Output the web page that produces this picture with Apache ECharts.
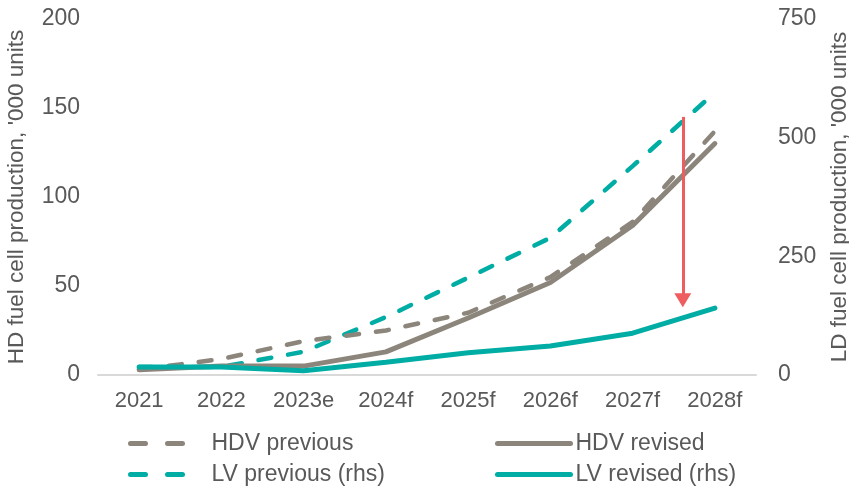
<!DOCTYPE html>
<html>
<head>
<meta charset="utf-8">
<script src="https://cdn.jsdelivr.net/npm/echarts@6/dist/echarts.min.js"></script>
<style>
html,body{margin:0;padding:0;background:#fff;}
#chart{width:849px;height:487px;}
</style>
</head>
<body>
<div id="chart"></div>
<script>
// ---- data ----
var categories = ['2021', '2022', '2023e', '2024f', '2025f', '2026f', '2027f', '2028f'];
var hdvPrevious = [3, 9, 19, 25, 35, 55, 86, 137];
var hdvRevised = [3, 5, 5, 13, 32, 52, 84, 130];
var lvPrevious = [17, 17, 49, 122, 205, 289, 440, 595];
var lvRevised = [17, 17, 9, 27, 47, 61, 88, 141];
var leftTicks = {min: 0, max: 200, interval: 50};
var rightTicks = {min: 0, max: 750, interval: 250};
// red arrow annotation: category position (index units) and values on left axis
var arrowX = 6.61;
var arrowFrom = 145;
var arrowTo = 42;

var GRAY = '#8C857B';
var TEAL = '#00ADA5';
var RED = '#EE5D5F';
var TXT = '#595959';
var FONT = 'Liberation Sans, Arial, sans-serif';

var chart = echarts.init(document.getElementById('chart'), null, {renderer: 'canvas'});

var dashed = [13, 17];
var legendDash = [15, 22];
var noSymbol = {opacity: 0};

var option = {
  animation: false,
  backgroundColor: '#fff',
  textStyle: {fontFamily: FONT, color: TXT},
  grid: {left: 98, right: 93, top: 19, bottom: 112, containLabel: false, outerBoundsMode: 'none'},
  xAxis: [{
    type: 'category',
    data: categories,
    boundaryGap: true,
    axisLine: {show: true, lineStyle: {color: '#D9D9D9', width: 2}},
    axisTick: {show: false},
    axisLabel: {color: TXT, fontSize: 22, fontFamily: FONT, margin: 15, interval: 0},
    splitLine: {show: false}
  }, {
    type: 'value',
    min: -0.5,
    max: 7.5,
    show: false,
    splitLine: {show: false}
  }],
  yAxis: [{
    type: 'value',
    min: leftTicks.min, max: leftTicks.max, interval: leftTicks.interval,
    name: "HD fuel cell production, '000 units",
    nameLocation: 'middle',
    nameGap: 70,
    nameTextStyle: {color: TXT, fontSize: 22.5, fontFamily: FONT},
    axisLine: {show: false},
    axisTick: {show: false},
    splitLine: {show: false},
    axisLabel: {color: TXT, fontSize: 23, fontFamily: FONT, margin: 18}
  }, {
    type: 'value',
    min: rightTicks.min, max: rightTicks.max, interval: rightTicks.interval,
    name: "LD fuel cell production, '000 units",
    nameLocation: 'middle',
    nameGap: 72,
    nameRotate: 90,
    nameTextStyle: {color: TXT, fontSize: 22.5, fontFamily: FONT},
    axisLine: {show: false},
    axisTick: {show: false},
    splitLine: {show: false},
    axisLabel: {color: TXT, fontSize: 23, fontFamily: FONT, margin: 22}
  }],
  legend: [{
    orient: 'vertical',
    left: 128,
    top: 432,
    padding: 0,
    itemWidth: 60,
    itemHeight: 14,
    itemGap: 8,
    textStyle: {color: TXT, fontSize: 23, fontFamily: FONT, padding: [0, 0, 0, 16]},
    data: [
      {name: 'HDV previous', itemStyle: noSymbol, lineStyle: {color: GRAY, width: 5, type: legendDash, cap: 'round'}},
      {name: 'LV previous (rhs)', itemStyle: noSymbol, lineStyle: {color: TEAL, width: 5, type: legendDash, cap: 'round'}}
    ]
  }, {
    orient: 'vertical',
    left: 495,
    top: 432,
    padding: 0,
    itemWidth: 73,
    itemHeight: 14,
    itemGap: 8,
    textStyle: {color: TXT, fontSize: 23, fontFamily: FONT},
    data: [
      {name: 'HDV revised', itemStyle: noSymbol, lineStyle: {color: GRAY, width: 5, cap: 'round'}},
      {name: 'LV revised (rhs)', itemStyle: noSymbol, lineStyle: {color: TEAL, width: 5, cap: 'round'}}
    ]
  }],
  series: [{
    name: 'LV previous (rhs)',
    type: 'line',
    yAxisIndex: 1,
    data: lvPrevious,
    symbol: 'none',
    lineStyle: {color: TEAL, width: 4.5, type: dashed, cap: 'round'},
    itemStyle: {color: TEAL},
    z: 2
  }, {
    name: 'HDV revised',
    type: 'line',
    yAxisIndex: 0,
    data: hdvRevised,
    symbol: 'none',
    lineStyle: {color: GRAY, width: 5, cap: 'round'},
    itemStyle: {color: GRAY},
    z: 3
  }, {
    name: 'HDV previous',
    type: 'line',
    yAxisIndex: 0,
    data: hdvPrevious,
    symbol: 'none',
    lineStyle: {color: GRAY, width: 4.5, type: dashed, cap: 'round'},
    itemStyle: {color: GRAY},
    z: 4
  }, {
    name: 'LV revised (rhs)',
    type: 'line',
    yAxisIndex: 1,
    data: lvRevised,
    symbol: 'none',
    lineStyle: {color: TEAL, width: 5, cap: 'round'},
    itemStyle: {color: TEAL},
    z: 5
  }, {
    name: 'arrow',
    type: 'line',
    xAxisIndex: 1,
    yAxisIndex: 0,
    data: [],
    symbol: 'none',
    silent: true,
    z: 6,
    markLine: {
      silent: true,
      symbol: ['none', 'triangle'],
      symbolSize: [17, 14],
      symbolOffset: [0, 0],
      label: {show: false},
      lineStyle: {color: RED, width: 3, type: 'solid'},
      data: [[{coord: [arrowX, arrowFrom]}, {coord: [arrowX, arrowTo]}]]
    }
  }]
};
chart.setOption(option);
</script>
</body>
</html>
